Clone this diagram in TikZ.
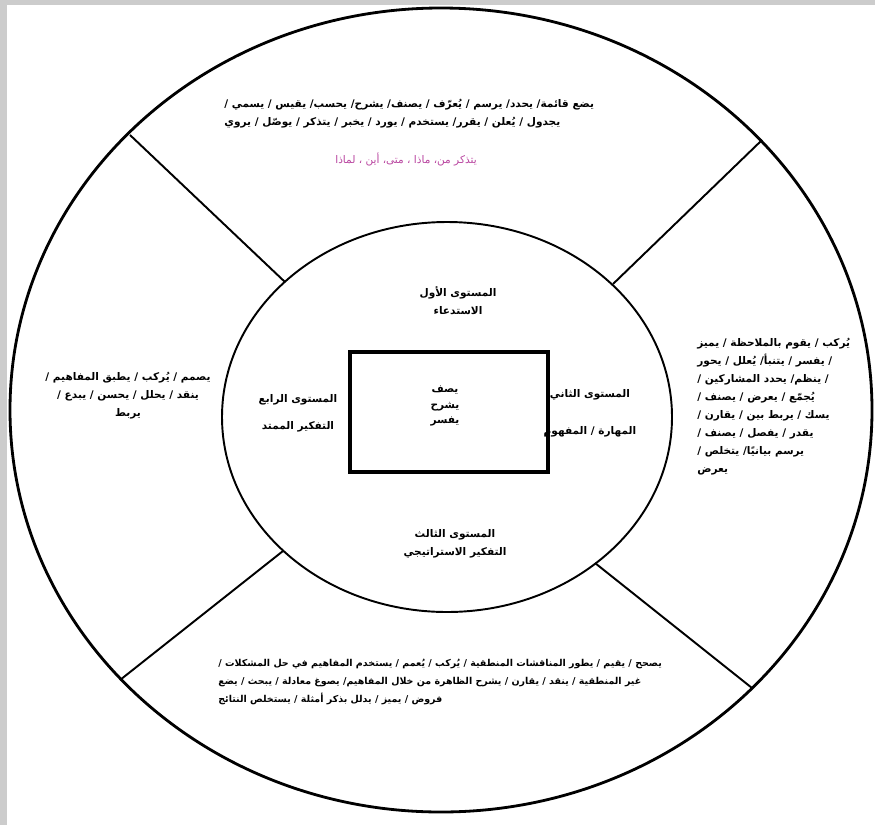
\documentclass[tikz,border=0pt]{standalone}
\usepackage{fontspec}
\newfontfamily\arabicfont[Script=Arabic]{DejaVu Sans}
\TeXXeTstate=1
\newcommand{\artxt}[1]{\beginR #1\endR}
\definecolor{qpink}{RGB}{185,70,160}
\tikzset{
  ring/.style={line width=1.6pt},
  innerring/.style={line width=1.1pt},
  spoke/.style={line width=1.1pt},
  lbl/.style={font=\arabicfont\bfseries\fontsize{6}{10.2}\selectfont, inner sep=0pt}
}
\begin{document}
\begin{tikzpicture}[x=0.02cm,y=-0.02cm]
\useasboundingbox (0,0) rectangle (875,825);
% frame shadow
\fill[gray!40] (0,0) rectangle (7,825);
\fill[gray!40] (0,0) rectangle (875,5);
% circles and box
\draw [ring] (441,410) ellipse (431 and 402);
\draw [innerring] (447,417) ellipse (225 and 195);
\draw [line width=2.6pt] (350,352) rectangle (548,472);
% spokes
\coordinate (o1) at (130,135); \coordinate (i1) at (285,282);
\coordinate (o2) at (762,140); \coordinate (i2) at (613,284);
\coordinate (o3) at (120,680); \coordinate (i3) at (283,551);
\coordinate (o4) at (752,688); \coordinate (i4) at (595,563);
\draw [spoke] (o1)--(i1);
\draw [spoke] (o2)--(i2);
\draw [spoke] (o3)--(i3);
\draw [spoke] (o4)--(i4);
% outer ring texts
\node [lbl, align=left, anchor=north west] (topverbs) at (224,99)
  {\artxt{يضع قائمة/ يحدد/ يرسم / يُعرّف / يصنف/ يشرح/ يحسب/ يقيس / يسمي /}\\
   \artxt{يجدول / يُعلن / يقرر/ يستخدم / يورد / يخبر / يتذكر / يوصّل / يروي}};
\node [lbl, text=qpink, font=\arabicfont\fontsize{6}{10.2}\selectfont] (questions) at (406,160)
  {\artxt{يتذكر من، ماذا ، متى، أين ، لماذا}};
\node [lbl, align=center] (leftverbs) at (128,396)
  {\artxt{يصمم / يُركب / يطبق المفاهيم /}\\
   \artxt{ينقد / يحلل / يحسن / يبدع /}\\
   \artxt{يربط}};
\node [lbl, align=left, anchor=north west] (rightverbs) at (697,338)
  {\artxt{يُركب / يقوم بالملاحظة / يميز}\\
   \artxt{/ يفسر / يتنبأ/ يُعلل / يحور}\\
   \artxt{/ ينظم/ يحدد المشاركين /}\\
   \artxt{يُجمّع / يعرض / يصنف /}\\
   \artxt{يسك / يربط بين / يقارن /}\\
   \artxt{يقدر / يفصل / يصنف /}\\
   \artxt{يرسم بيانيًا/ يتخلص /}\\
   \artxt{يعرض}};
\node [lbl, align=left, anchor=north west, font=\arabicfont\bfseries\fontsize{5.4}{10.2}\selectfont] (bottomverbs) at (218,659)
  {\artxt{يصحح / يقيم / يطور المناقشات المنطقية / يُركب / يُعمم / يستخدم المفاهيم في حل المشكلات /}\\
   \artxt{غير المنطقية / ينقد / يقارن / يشرح الظاهرة من خلال المفاهيم/ يصوغ معادلة / يبحث / يضع}\\
   \artxt{فروض / يميز / يدلل بذكر أمثلة / يستخلص النتائج}};
% inner ring texts
\node [lbl, align=center] (lvlone) at (458,301)
  {\artxt{المستوى الأول}\\\artxt{الاستدعاء}};
\node [lbl, align=center] (lvltwo) at (590,413)
  {\artxt{المستوى الثاني}\\[11pt]\artxt{المهارة / المفهوم}};
\node [lbl, align=center] (lvlthree) at (455,544)
  {\artxt{المستوى الثالث}\\\artxt{التفكير الاستراتيجي}};
\node [lbl, align=center] (lvlfour) at (298,413)
  {\artxt{المستوى الرابع}\\[5pt]\artxt{التفكير الممتد}};
% centre box
\node [lbl, align=center, font=\arabicfont\bfseries\fontsize{6}{9}\selectfont] (core) at (445,406)
  {\artxt{يصف}\\\artxt{يشرح}\\\artxt{يفسر}};
\end{tikzpicture}
\end{document}
